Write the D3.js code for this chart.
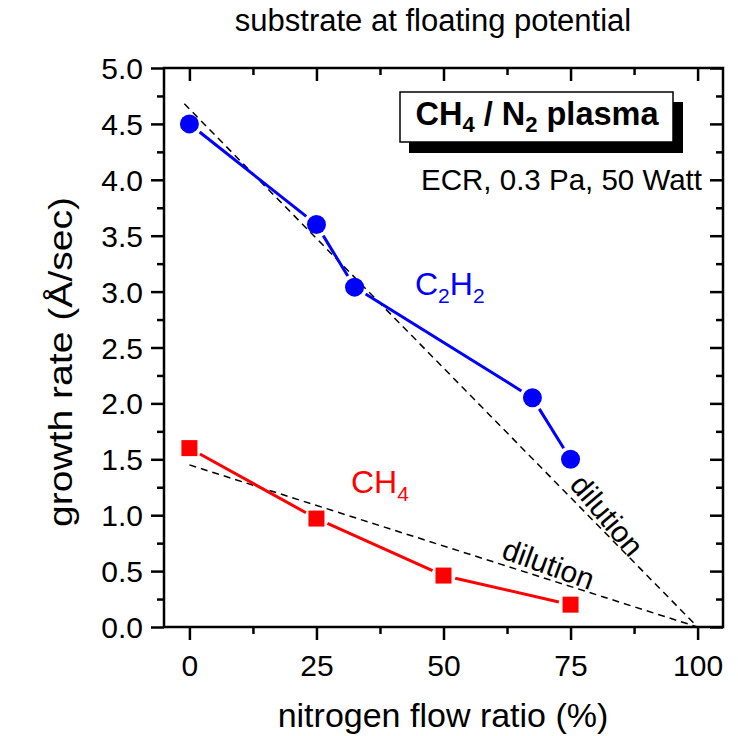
<!DOCTYPE html>
<html>
<head>
<meta charset="utf-8">
<script src="https://cdn.jsdelivr.net/npm/d3@7"></script>
<style>
  body { margin: 0; background: #fff; }
  text { font-family: "Liberation Sans", Arial, sans-serif; }
</style>
</head>
<body>
<script>
// Data

let c2h2X = [0, 25, 32.5, 67.5, 75]
let c2h2Y = [4.5, 3.6, 3.04, 2.05, 1.5]

let ch4X = [0, 25, 50, 75]
let ch4Y = [1.6, 0.97, 0.46, 0.2]

// dilution lines (start / end points)
let dilC2h2X = [-1, 100]
let dilC2h2Y = [4.68, 0]
let dilCh4X = [0, 100]
let dilCh4Y = [1.45, 0]

let xTicks = [0, 25, 50, 75, 100]
let xMinor = [12.5, 37.5, 62.5, 87.5]
let yTicks = [0, 0.5, 1, 1.5, 2, 2.5, 3, 3.5, 4, 4.5, 5]
let yMinor = [0.25, 0.75, 1.25, 1.75, 2.25, 2.75, 3.25, 3.75, 4.25, 4.75]

// Set up the chart parameters

let svgWidth = 738
let svgHeight = 736

var margin = { top: 68, right: 15, bottom: 109, left: 164 };

let width = 559;
let height = 559;

let svg = d3.select("body")
  .append("svg")
  .attr("width", svgWidth)
  .attr("height", svgHeight)

let chartGroup = svg.append("g")
  .attr("transform", `translate(${margin.left}, ${margin.top})`)

// Scales
let x = d3.scaleLinear().domain([-5, 105]).range([0, width]);
let y = d3.scaleLinear().domain([0, 5]).range([height, 0]);

// Axes: outward on bottom/left, inward on top/right
function drawAxis(axisFn, scale, values, size, transform, labels) {
  let g = chartGroup.append("g")
    .attr("transform", transform)
    .call(axisFn(scale).tickValues(values).tickSize(size).tickSizeOuter(0)
      .tickFormat(labels ? labels : ""));
  g.select(".domain").remove();
  g.selectAll("line").attr("stroke", "#000").attr("stroke-width", 2.5);
  return g;
}

let xb = drawAxis(d3.axisBottom, x, xTicks, 13, `translate(0, ${height})`, d3.format("d"));
drawAxis(d3.axisBottom, x, xMinor, 7, `translate(0, ${height})`);
drawAxis(d3.axisBottom, x, xTicks, 13, "translate(0, 0)");
drawAxis(d3.axisBottom, x, xMinor, 7, "translate(0, 0)");

let yl = drawAxis(d3.axisLeft, y, yTicks, 13, "translate(0, 0)", d3.format(".1f"));
drawAxis(d3.axisLeft, y, yMinor, 7, "translate(0, 0)");
drawAxis(d3.axisLeft, y, yTicks, 13, `translate(${width}, 0)`);
drawAxis(d3.axisLeft, y, yMinor, 7, `translate(${width}, 0)`);

xb.selectAll("text").attr("font-size", 30).attr("fill", "#000").attr("y", 49).attr("dy", 0)
yl.selectAll("text").attr("font-size", 30).attr("fill", "#000").attr("x", -21).attr("dy", "0.35em")

// frame
chartGroup.append("rect")
  .attr("x", 0).attr("y", 0)
  .attr("width", width).attr("height", height)
  .attr("fill", "none")
  .attr("stroke", "#000")
  .attr("stroke-width", 2.5)

// dilution lines
function dashed(xs, ys) {
  chartGroup.append("line")
    .attr("x1", x(xs[0])).attr("y1", y(ys[0]))
    .attr("x2", x(xs[1])).attr("y2", y(ys[1]))
    .attr("stroke", "#000")
    .attr("stroke-width", 1.5)
    .attr("stroke-dasharray", "7,5")
}
dashed(dilC2h2X, dilC2h2Y)
dashed(dilCh4X, dilCh4Y)

// series lines, drawn with a small gap at each marker
function series(xs, ys, color, gap) {
  for (let i = 0; i < xs.length - 1; i++) {
    let x1 = x(xs[i]), y1 = y(ys[i]), x2 = x(xs[i + 1]), y2 = y(ys[i + 1]);
    let len = Math.hypot(x2 - x1, y2 - y1);
    let ux = (x2 - x1) / len, uy = (y2 - y1) / len;
    chartGroup.append("line")
      .attr("x1", x1 + ux * gap).attr("y1", y1 + uy * gap)
      .attr("x2", x2 - ux * gap).attr("y2", y2 - uy * gap)
      .attr("stroke", color)
      .attr("stroke-width", 3)
  }
}
series(c2h2X, c2h2Y, "#0000ff", 13)
series(ch4X, ch4Y, "#ff0000", 12)

chartGroup.selectAll(".c2h2")
  .data(c2h2X)
  .enter().append("circle")
  .attr("cx", d => x(d))
  .attr("cy", (d, i) => y(c2h2Y[i]))
  .attr("r", 9.5)
  .style("fill", "#0000ff")

chartGroup.selectAll(".ch4")
  .data(ch4X)
  .enter().append("rect")
  .attr("x", d => x(d) - 8)
  .attr("y", (d, i) => y(ch4Y[i]) - 8)
  .attr("width", 16)
  .attr("height", 16)
  .style("fill", "#ff0000")

// series labels
let lblC2 = svg.append("text")
  .attr("x", 415).attr("y", 295)
  .attr("font-size", 32).attr("fill", "#0000ff")
lblC2.append("tspan").text("C")
lblC2.append("tspan").attr("font-size", 21).attr("dy", 8).text("2")
lblC2.append("tspan").attr("dy", -8).text("H")
lblC2.append("tspan").attr("font-size", 21).attr("dy", 8).text("2")

let lblCh4 = svg.append("text")
  .attr("x", 351).attr("y", 493)
  .attr("font-size", 32).attr("fill", "#ff0000")
lblCh4.append("tspan").text("CH")
lblCh4.append("tspan").attr("font-size", 21).attr("dy", 8).text("4")

// dilution labels
svg.append("text")
  .attr("transform", "translate(599, 522) rotate(50)")
  .attr("text-anchor", "middle")
  .attr("font-size", 30)
  .text("dilution")

svg.append("text")
  .attr("transform", "translate(545, 574) rotate(20)")
  .attr("text-anchor", "middle")
  .attr("font-size", 30)
  .text("dilution")

// plasma box with shadow
svg.append("rect")
  .attr("x", 409).attr("y", 102).attr("width", 274).attr("height", 51)
  .attr("fill", "#000")
svg.append("rect")
  .attr("x", 400).attr("y", 92).attr("width", 273).attr("height", 50)
  .attr("fill", "#fff").attr("stroke", "#000").attr("stroke-width", 1.5)

let boxText = svg.append("text")
  .attr("x", 537).attr("y", 125)
  .attr("text-anchor", "middle")
  .attr("font-size", 32.5).attr("font-weight", "bold")
boxText.append("tspan").text("CH")
boxText.append("tspan").attr("font-size", 22).attr("dy", 7).text("4")
boxText.append("tspan").attr("dy", -7).text(" / N")
boxText.append("tspan").attr("font-size", 22).attr("dy", 7).text("2")
boxText.append("tspan").attr("dy", -7).text(" plasma")

svg.append("text")
  .attr("x", 702).attr("y", 190)
  .attr("text-anchor", "end")
  .attr("font-size", 29.5)
  .text("ECR, 0.3 Pa, 50 Watt")

// title and axis labels
svg.append("text")
  .attr("x", 433).attr("y", 31)
  .attr("text-anchor", "middle")
  .attr("font-size", 31)
  .text("substrate at floating potential")

svg.append("text")
  .attr("x", 443).attr("y", 727)
  .attr("text-anchor", "middle")
  .attr("font-size", 34)
  .text("nitrogen flow ratio (%)")

svg.append("text")
  .attr("transform", "translate(72, 362) rotate(-90) scale(1.15, 1)")
  .attr("text-anchor", "middle")
  .attr("font-size", 34)
  .text("growth rate (Å/sec)")
</script>
</body>
</html>
